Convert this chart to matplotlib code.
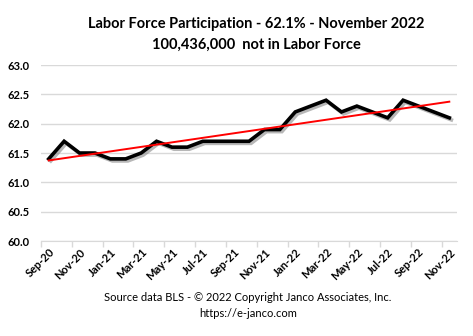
import numpy as np
import matplotlib
matplotlib.use("Agg")
import matplotlib.pyplot as plt
import matplotlib.patheffects as pe

plt.rcParams['font.family'] = ['Lato', 'DejaVu Sans']

# monthly labor force participation rate, Sep-20 .. Nov-22
months = ['Sep-20', 'Oct-20', 'Nov-20', 'Dec-20',
          'Jan-21', 'Feb-21', 'Mar-21', 'Apr-21', 'May-21', 'Jun-21',
          'Jul-21', 'Aug-21', 'Sep-21', 'Oct-21', 'Nov-21', 'Dec-21',
          'Jan-22', 'Feb-22', 'Mar-22', 'Apr-22', 'May-22', 'Jun-22',
          'Jul-22', 'Aug-22', 'Sep-22', 'Oct-22', 'Nov-22']
rate = [61.4, 61.7, 61.5, 61.5,
        61.4, 61.4, 61.5, 61.7, 61.6, 61.6,
        61.7, 61.7, 61.7, 61.7, 61.9, 61.9,
        62.2, 62.3, 62.4, 62.2, 62.3, 62.2,
        62.1, 62.4, 62.3, 62.2, 62.1]
y_ticks = [60.0, 60.5, 61.0, 61.5, 62.0, 62.5, 63.0]

x = np.arange(len(months))

fig = plt.figure(figsize=(4.73, 3.36), dpi=100)
ax = fig.add_axes([0.0867, 0.2827, 0.8795, 0.5238])

# data line with drop shadow
ax.plot(x, rate, color='black', lw=2.6, solid_joinstyle='miter', zorder=3,
        path_effects=[pe.SimpleLineShadow(offset=(1.5, -1.5), shadow_color='#888888', alpha=0.6),
                      pe.Normal()])

# linear trendline
slope, icpt = np.polyfit(x, rate, 1)
ax.plot(x, slope * x + icpt, color='#ff0000', lw=1.4, zorder=4)

ax.set_xlim(-0.5, len(months) - 0.5)
ax.set_ylim(60.0, 63.0)
ax.set_yticks(y_ticks)
ax.set_yticklabels([f'{v:.1f}' for v in y_ticks], fontsize=8, fontweight='bold')
ax.tick_params(axis='y', length=0, pad=8)
ax.grid(axis='y', color='#d9d9d9', lw=1)
ax.set_axisbelow(True)

# tick marks between categories, labels on every other month
ax.set_xticks(np.arange(-0.5, len(months) - 1, 2))
ax.set_xticklabels([])
ax.set_xticks(x[::2], minor=True)
ax.set_xticklabels(months[::2], minor=True, rotation=45, ha='right',
                   rotation_mode='anchor', fontsize=8, fontweight='bold')
ax.tick_params(axis='x', which='major', length=4, color='#d9d9d9', width=1)
ax.tick_params(axis='x', which='minor', length=0, pad=4)

for s in ['top', 'right', 'left']:
    ax.spines[s].set_visible(False)
ax.spines['bottom'].set_color('#d9d9d9')

fig.text(0.541, 0.93, 'Labor Force Participation - 62.1% - November 2022',
         ha='center', va='center', fontsize=10.5, fontweight='bold')
fig.text(0.543, 0.868, '100,436,000  not in Labor Force',
         ha='center', va='center', fontsize=10.5, fontweight='bold')
fig.text(0.524, 0.115, 'Source data BLS - \u00a9 2022 Copyright Janco Associates, Inc.',
         ha='center', va='center', fontsize=8)
fig.text(0.524, 0.068, 'https://e-janco.com', ha='center', va='center', fontsize=8)

fig.savefig('out.png', dpi=100)
